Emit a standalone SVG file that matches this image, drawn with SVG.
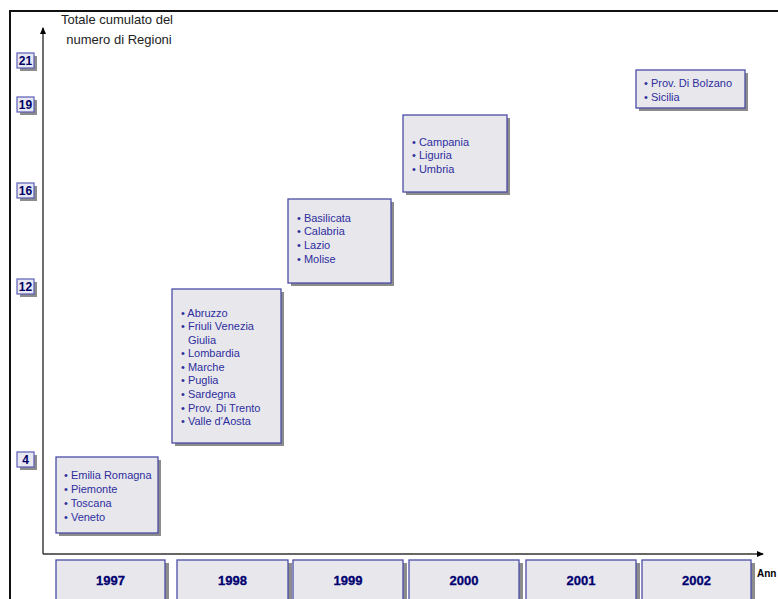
<svg xmlns="http://www.w3.org/2000/svg" width="778" height="599" viewBox="0 0 778 599">
<style>
.shadow{fill:#8c8c8c}
.box{fill:#e8e8ec;stroke:#4c4ca6;stroke-width:1.3}
.item{font-family:"Liberation Sans",Arial,sans-serif;font-size:11px;fill:#2e2e9e}
.ylab{font-family:"Liberation Sans",Arial,sans-serif;font-size:12px;font-weight:bold;fill:#000066;text-anchor:middle}
.year{font-family:"Liberation Sans",Arial,sans-serif;font-size:13px;font-weight:bold;fill:#000070;text-anchor:middle;stroke:#000070;stroke-width:0.3}
.title{font-family:"Liberation Sans",Arial,sans-serif;font-size:13px;fill:#222;text-anchor:middle}
.axis{stroke:#333;stroke-width:1.4;fill:none}
.frame{stroke:#111;stroke-width:2;fill:none}
</style>
<defs>
<marker id="arr" markerWidth="8" markerHeight="8" refX="6" refY="4" orient="auto" markerUnits="userSpaceOnUse">
<path d="M0,1 L7,4 L0,7 Z" fill="#000"/>
</marker>
</defs>
<rect width="778" height="599" fill="#fff"/>
<g id="frame">
<path class="frame" d="M10,599 L10,11 L778,11"/>
</g>
<g id="connectors">
<path class="axis" d="M43,554 L43,28" marker-end="url(#arr)"/>
<path class="axis" d="M43,554 L763,554" marker-end="url(#arr)"/>
</g>
<g id="title">
<text class="title" x="117" y="24">Totale cumulato del</text>
<text class="title" x="119" y="44">numero di Regioni</text>
</g>
<text x="757" y="577" font-family="Liberation Sans,Arial,sans-serif" font-size="10" font-weight="bold" fill="#000">Ann</text>
<g id="y21"><rect class="shadow" x="20" y="56" width="17" height="15"/><rect x="17" y="53" width="17" height="15" fill="#e8e8f2" stroke="#5c5cb8" stroke-width="1.2"/><text class="ylab" x="25.5" y="65">21</text></g>
<g id="y19"><rect class="shadow" x="20" y="100" width="17" height="15"/><rect x="17" y="97" width="17" height="15" fill="#e8e8f2" stroke="#5c5cb8" stroke-width="1.2"/><text class="ylab" x="25.5" y="109">19</text></g>
<g id="y16"><rect class="shadow" x="20" y="186" width="17" height="15"/><rect x="17" y="183" width="17" height="15" fill="#e8e8f2" stroke="#5c5cb8" stroke-width="1.2"/><text class="ylab" x="25.5" y="195">16</text></g>
<g id="y12"><rect class="shadow" x="20" y="282" width="17" height="15"/><rect x="17" y="279" width="17" height="15" fill="#e8e8f2" stroke="#5c5cb8" stroke-width="1.2"/><text class="ylab" x="25.5" y="291">12</text></g>
<g id="y4"><rect class="shadow" x="20" y="455" width="17" height="15"/><rect x="17" y="452" width="17" height="15" fill="#e8e8f2" stroke="#5c5cb8" stroke-width="1.2"/><text class="ylab" x="25.5" y="464">4</text></g>
<g id="r1997">
<rect class="shadow" x="59" y="460" width="102" height="76"/>
<rect class="box" x="56" y="457" width="102" height="76"/>
<text class="item" x="64" y="479">• Emilia Romagna</text>
<text class="item" x="64" y="493">• Piemonte</text>
<text class="item" x="64" y="507">• Toscana</text>
<text class="item" x="64" y="521">• Veneto</text>
</g>
<g id="r1998">
<rect class="shadow" x="175" y="292" width="109" height="154"/>
<rect class="box" x="172" y="289" width="109" height="154"/>
<text class="item" x="181" y="317">• Abruzzo</text>
<text class="item" x="181" y="330">• Friuli Venezia</text>
<text class="item" x="188" y="344">Giulia</text>
<text class="item" x="181" y="357">• Lombardia</text>
<text class="item" x="181" y="371">• Marche</text>
<text class="item" x="181" y="384">• Puglia</text>
<text class="item" x="181" y="398">• Sardegna</text>
<text class="item" x="181" y="412">• Prov. Di Trento</text>
<text class="item" x="181" y="425">• Valle d'Aosta</text>
</g>
<g id="r1999">
<rect class="shadow" x="291" y="202" width="103" height="84"/>
<rect class="box" x="288" y="199" width="103" height="84"/>
<text class="item" x="297" y="222">• Basilicata</text>
<text class="item" x="297" y="235">• Calabria</text>
<text class="item" x="297" y="249">• Lazio</text>
<text class="item" x="297" y="263">• Molise</text>
</g>
<g id="r2000">
<rect class="shadow" x="406" y="118" width="104" height="77"/>
<rect class="box" x="403" y="115" width="104" height="77"/>
<text class="item" x="412" y="146">• Campania</text>
<text class="item" x="412" y="159">• Liguria</text>
<text class="item" x="412" y="173">• Umbria</text>
</g>
<g id="r2002">
<rect class="shadow" x="639" y="73" width="109" height="38"/>
<rect class="box" x="636" y="70" width="109" height="38"/>
<text class="item" x="644" y="87">• Prov. Di Bolzano</text>
<text class="item" x="644" y="101">• Sicilia</text>
</g>
<g id="y1997"><rect class="shadow" x="60" y="563" width="109" height="45"/><rect class="box" x="56" y="560" width="109" height="45"/><text class="year" x="110.5" y="585">1997</text></g>
<g id="y1998"><rect class="shadow" x="181" y="563" width="111" height="45"/><rect class="box" x="177" y="560" width="111" height="45"/><text class="year" x="232.5" y="585">1998</text></g>
<g id="y1999"><rect class="shadow" x="297" y="563" width="110" height="45"/><rect class="box" x="293" y="560" width="110" height="45"/><text class="year" x="348" y="585">1999</text></g>
<g id="y2000"><rect class="shadow" x="413" y="563" width="110" height="45"/><rect class="box" x="409" y="560" width="110" height="45"/><text class="year" x="464" y="585">2000</text></g>
<g id="y2001"><rect class="shadow" x="530" y="563" width="110" height="45"/><rect class="box" x="526" y="560" width="110" height="45"/><text class="year" x="581" y="585">2001</text></g>
<g id="y2002"><rect class="shadow" x="646" y="563" width="109" height="45"/><rect class="box" x="642" y="560" width="109" height="45"/><text class="year" x="696.5" y="585">2002</text></g>
</svg>
